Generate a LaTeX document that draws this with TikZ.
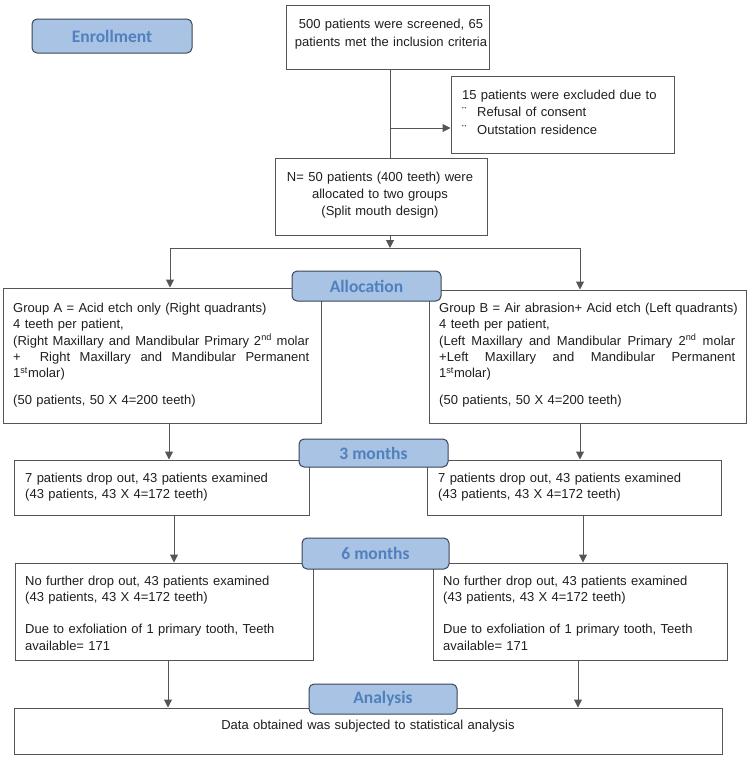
\documentclass[tikz,border=0pt]{standalone}
\usepackage{fontspec}
\setmainfont{Liberation Sans}
\newfontfamily\lblfont{Carlito}
\usetikzlibrary{arrows.meta,fit}
\definecolor{ink}{HTML}{1E1E1E}
\definecolor{edge}{HTML}{555555}
\definecolor{lblfill}{HTML}{A8C3E3}
\definecolor{lbledge}{HTML}{3A4556}
\definecolor{lbltext}{HTML}{5080BE}
\newcommand{\jline}[1]{\makebox[296pt][s]{\spaceskip=0.278em plus 1fil\relax #1}}
\begin{document}
\begin{tikzpicture}[x=1pt,y=-1pt,
  box/.style={draw=edge, line width=1pt, inner sep=0pt},
  txt/.style={inner sep=0pt, align=left, text=ink, font=\fontsize{13}{16.3}\selectfont},
  lbl/.style={draw=lbledge, fill=lblfill, rounded corners=5pt, line width=1pt, inner sep=0pt,
    text=lbltext, font={\fontsize{17.5}{21}\lblfont\bfseries}},
  ln/.style={draw=edge, line width=1pt},
  arr/.style={draw=edge, line width=1pt, -{Triangle[length=8pt,width=8pt]}}]
\useasboundingbox (0,0) rectangle (750,758);
% boxes
\node[box, fit={(286,5) (489,69)}] (scr) {};
\node[box, fit={(451,76) (674,153)}] (exc) {};
\node[box, fit={(275,158) (487,235)}] (nbox) {};
\node[box, fit={(3,288) (321,423)}] (ga) {};
\node[box, fit={(429,290) (746,423)}] (gb) {};
\node[box, fit={(14,460) (309,515)}] (m3l) {};
\node[box, fit={(427,460) (721,515)}] (m3r) {};
\node[box, fit={(15,563) (313,660)}] (m6l) {};
\node[box, fit={(433,563) (727,660)}] (m6r) {};
\node[box, fit={(14,708) (722,754)}] (fin) {};
% texts
\node[txt, text width=210pt, align=center, anchor=base, font=\fontsize{13}{17.7}\selectfont] (scrT) at (391,28.5)
  {500 patients were screened, 65\\patients met the inclusion criteria};
\node[txt, text width=205pt, anchor=base west, font=\fontsize{13}{17.5}\selectfont] (excT) at (462,99)
  {15 patients were excluded due to\\\makebox[15pt][l]{¨}Refusal of consent\\\makebox[15pt][l]{¨}Outstation residence};
\node[txt, text width=210pt, align=center, anchor=base, font=\fontsize{13}{17}\selectfont] (nT) at (380,181.5)
  {N= 50 patients (400 teeth) were\\allocated to two groups\\(Split mouth design)};
\node[txt, text width=296pt, anchor=base west] (gaT) at (13,312.5)
  {\mbox{Group A = Acid etch only (Right quadrants)}\\
   4 teeth per patient,\\
   \jline{(Right Maxillary and Mandibular Primary 2\textsuperscript{nd} molar}\\
   \jline{+ \ Right Maxillary and Mandibular Permanent}\\
   1\textsuperscript{st}molar)\\[10.7pt]
   (50 patients, 50 X 4=200 teeth)};
\node[txt, text width=296pt, anchor=base west] (gbT) at (439,312.5)
  {\mbox{Group B = Air abrasion+ Acid etch (Left quadrants)}\\
   4 teeth per patient,\\
   \jline{(Left Maxillary and Mandibular Primary 2\textsuperscript{nd} molar}\\
   \jline{+Left Maxillary and Mandibular Permanent}\\
   1\textsuperscript{st}molar)\\[10.7pt]
   (50 patients, 50 X 4=200 teeth)};
\node[txt, text width=280pt, anchor=base west] (m3lT) at (25,482.5)
  {7 patients drop out, 43 patients examined\\(43 patients, 43 X 4=172 teeth)};
\node[txt, text width=280pt, anchor=base west] (m3rT) at (438,482.5)
  {7 patients drop out, 43 patients examined\\(43 patients, 43 X 4=172 teeth)};
\node[txt, text width=285pt, anchor=base west] (m6lT) at (25,585.5)
  {No further drop out, 43 patients examined\\(43 patients, 43 X 4=172 teeth)\\[15.7pt]Due to exfoliation of 1 primary tooth, Teeth\\available= 171};
\node[txt, text width=285pt, anchor=base west] (m6rT) at (443,585.5)
  {No further drop out, 43 patients examined\\(43 patients, 43 X 4=172 teeth)\\[15.7pt]Due to exfoliation of 1 primary tooth, Teeth\\available= 171};
\node[txt, text width=700pt, align=center, anchor=base] (finT) at (368,729.5)
  {Data obtained was subjected to statistical analysis};
% connectors
\coordinate (cx) at (390,0);
\coordinate (br) at (390,128);
\coordinate (sp) at (390,248);
\coordinate (cl) at (170,248);
\coordinate (cr) at (580,248);
\coordinate (a1) at (169,0);
\coordinate (b1) at (580,0);
\coordinate (a2) at (174,0);
\coordinate (b2) at (583,0);
\coordinate (a3) at (168,0);
\coordinate (b3) at (578,0);
\draw[ln] (scr.south -| cx) -- (nbox.north -| cx);
\draw[arr] (br) -- (br -| exc.west);
\draw[arr] (nbox.south -| cx) -- (sp);
\draw[ln] (cl) -- (cr);
\draw[arr] (cl) -- (cl |- ga.north);
\draw[arr] (cr) -- (cr |- gb.north);
\draw[arr] (ga.south -| a1) -- (m3l.north -| a1);
\draw[arr] (gb.south -| b1) -- (m3r.north -| b1);
\draw[arr] (m3l.south -| a2) -- (m6l.north -| a2);
\draw[arr] (m3r.south -| b2) -- (m6r.north -| b2);
\draw[arr] (m6l.south -| a3) -- (fin.north -| a3);
\draw[arr] (m6r.south -| b3) -- (fin.north -| b3);
% labels
\node[lbl, minimum width=160pt, minimum height=34pt] (enr) at (112,36) {Enrollment};
\node[lbl, minimum width=149pt, minimum height=30pt] (alloc) at (366.5,286) {Allocation};
\node[lbl, minimum width=149pt, minimum height=28pt] (l3) at (373.5,453) {3 months};
\node[lbl, minimum width=147pt, minimum height=31pt] (l6) at (375.5,553.5) {6 months};
\node[lbl, minimum width=148pt, minimum height=30pt] (lan) at (383,699) {Analysis};
\end{tikzpicture}
\end{document}
